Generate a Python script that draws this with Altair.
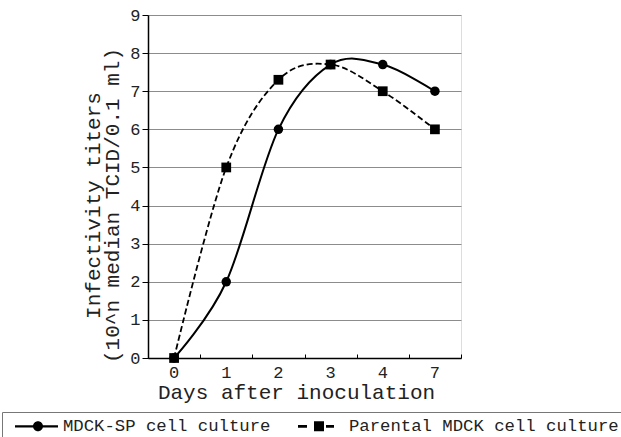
import altair as alt
import pandas as pd

days = ["0", "1", "2", "3", "4", "7"]
mdck_sp = [0, 2, 6, 7.7, 7.7, 7]
parental = [0, 5, 7.3, 7.7, 7, 6]
series_names = ["MDCK-SP cell culture", "Parental MDCK cell culture"]

rows = []
for d, v in zip(days, mdck_sp):
    rows.append({"day": d, "value": v, "series": series_names[0]})
for d, v in zip(days, parental):
    rows.append({"day": d, "value": v, "series": series_names[1]})
df = pd.DataFrame(rows)

FONT = "Liberation Mono"
W, H = 313, 343

# legend symbol paths (unit = 10 px with symbolSize 400), drawn as filled shapes
P1 = ("M-0.1,-0.11H1.75V0.11H-0.1Z"
      "M1.7,0A0.5,0.5 0 1,1 2.7,0A0.5,0.5 0 1,1 1.7,0Z"
      "M2.65,-0.11H4.2V0.11H2.65Z")
P2 = ("M-0.4,-0.13H0.5V0.13H-0.4Z"
      "M1.2,-0.5H2.2V0.5H1.2Z"
      "M2.4,-0.13H3.2V0.13H2.4Z")

xscale = alt.Scale(type="band", paddingInner=0, paddingOuter=0)
yaxis = alt.Axis(
    values=list(range(10)),
    grid=True, gridColor="#8c8c8c", gridWidth=1,
    domainColor="black", domainWidth=1.5,
    tickColor="black", tickSize=6, tickWidth=1,
    labelFont=FONT, labelFontSize=17, labelColor="#222", labelPadding=2,
    title=["Infectivity titers", "(10^n median TCID/0.1 ml)"],
    titleFont=FONT, titleFontSize=21, titleFontWeight="normal", titleColor="#222",
    titlePadding=7, titleLineHeight=19, titleY=190,
)
Y = alt.Y("value:Q", scale=alt.Scale(domain=[0, 9], nice=False), axis=yaxis)

def X(axis):
    return alt.X("day:O", sort=days, scale=xscale, bandPosition=0.5, axis=axis)

main_xaxis = alt.Axis(
    ticks=False, domainColor="black", domainWidth=1.5,
    labelFont=FONT, labelFontSize=17, labelColor="#222", labelAngle=0, labelPadding=6,
    title="Days after inoculation", titleFont=FONT, titleFontSize=21,
    titleFontWeight="normal", titleColor="#222", titlePadding=1, titleX=148,
)
tick_xaxis = alt.Axis(
    orient="top", offset=-H, domain=False, labels=False, title=None,
    ticks=True, tickBand="extent", tickSize=4, tickColor="black", tickWidth=1, grid=False,
)

base = alt.Chart(df)
sp = base.transform_filter(alt.datum.series == series_names[0])
par = base.transform_filter(alt.datum.series == series_names[1])

line_sp = sp.mark_line(interpolate="cardinal", color="black", strokeWidth=2).encode(
    x=X(main_xaxis), y=Y)
line_par = par.mark_line(interpolate="cardinal", color="black", strokeWidth=1.8,
                         strokeDash=[6, 3]).encode(x=X(None), y=Y)
pts_sp = sp.mark_point(filled=True, shape="circle", size=90, color="black", opacity=1).encode(
    x=X(None), y=Y)
pts_par = par.mark_point(filled=True, shape="square", size=95, color="black", opacity=1).encode(
    x=X(None), y=Y)
legend_layer = base.mark_point(filled=True, color="black", opacity=0).encode(
    x=X(None), y=Y,
    shape=alt.Shape("series:N", sort=series_names,
                    scale=alt.Scale(domain=series_names, range=[P1, P2]),
                    legend=alt.Legend(
                        orient="none", legendX=2 - 148, legendY=412 - 15,
                        direction="horizontal", title=None,
                        strokeColor="#777", padding=4,
                        symbolSize=400, symbolStrokeWidth=0,
                        symbolFillColor="black",
                        symbolOpacity=1, labelOffset=37, columnPadding=21,
                        labelFont=FONT, labelFontSize=17.3, labelColor="#222",
                        labelLimit=0,
                    )))
tick_layer = base.mark_point(opacity=0).encode(x=X(tick_xaxis), y=Y)

chart = alt.layer(line_sp, line_par, pts_sp, pts_par, legend_layer, tick_layer).resolve_axis(
    x="independent").properties(
    width=W, height=H,
    autosize=alt.AutoSizeParams(type="none"),
    padding={"left": 148, "top": 15, "right": 160, "bottom": 79},
).configure_view(stroke="#888", strokeWidth=1.5).configure(background="white")

chart.save("out.html", embed_options={"renderer": "svg", "actions": False})
